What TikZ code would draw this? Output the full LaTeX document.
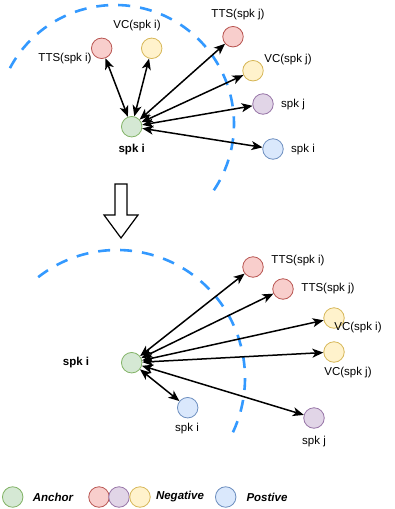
\documentclass[tikz,border=0pt]{standalone}
\usepackage{fontspec}
\setmainfont{Liberation Sans}
\usetikzlibrary{arrows.meta}
\definecolor{ancfill}{HTML}{D5E8D4}\definecolor{ancline}{HTML}{82B366}
\definecolor{ttsfill}{HTML}{F8CECC}\definecolor{ttsline}{HTML}{B85450}
\definecolor{vcfill}{HTML}{FFF2CC}\definecolor{vcline}{HTML}{D6B656}
\definecolor{spkfill}{HTML}{E1D5E7}\definecolor{spkline}{HTML}{9673A6}
\definecolor{posfill}{HTML}{DAE8FC}\definecolor{posline}{HTML}{6C8EBF}
\definecolor{bound}{HTML}{3399FF}
\begin{document}
\begin{tikzpicture}[x=1pt,y=-1pt,
    dot/.style={circle,draw,line width=0.8pt,minimum size=20.5pt,inner sep=0pt},
    ancdot/.style={dot,draw=ancline,fill=ancfill},
    ttsdot/.style={dot,draw=ttsline,fill=ttsfill},
    vcdot/.style={dot,draw=vcline,fill=vcfill},
    spkdot/.style={dot,draw=spkline,fill=spkfill},
    posdot/.style={dot,draw=posline,fill=posfill},
    txt/.style={font=\fontsize{11.5}{13}\selectfont,inner sep=0pt},
    btxt/.style={font=\fontsize{11.5}{13}\selectfont\bfseries,inner sep=0pt},
    itxt/.style={font=\fontsize{11.5}{13}\selectfont\bfseries\itshape,inner sep=0pt},
    link/.style={{Stealth[length=11pt,width=9pt,inset=3pt]}-{Stealth[length=11pt,width=9pt,inset=3pt]},line width=1.5pt},
    boundary/.style={draw=bound,line width=2.6pt,dash pattern=on 12pt off 10pt}]
  \useasboundingbox (0,0) rectangle (395,509);
  % before
  \draw [boundary] (115,124) ++(208:119) arc (208:394:119);
  \node [ancdot] (a1) at (131.7,126.7) {};
  \node [ttsdot] (t1i) at (101.7,48.3) {};
  \node [vcdot] (v1i) at (151.7,48.3) {};
  \node [ttsdot] (t1j) at (233,36.7) {};
  \node [vcdot] (v1j) at (253,70.7) {};
  \node [spkdot] (s1j) at (263,104) {};
  \node [posdot] (p1i) at (273,149) {};
  \node [btxt] at (131.7,150) {spk i};
  \node [txt] at (65,59) {TTS(spk i)};
  \node [txt] at (137,26) {VC(spk i)};
  \node [txt] at (238,15) {TTS(spk j)};
  \node [txt] at (288,60) {VC(spk j)};
  \node [txt] at (293,105) {spk j};
  \node [txt] at (303,150) {spk i};
  \foreach \x in {t1i,v1i,t1j,v1j,s1j,p1i} \draw [link] (a1) -- (\x);
  % step
  \draw [line width=1.2pt,fill=white] (115,184) -- (127,184) -- (127,215) -- (138,215)
    -- (121,238) -- (104,215) -- (115,215) -- cycle;
  % after
  \draw [boundary] (117,378) ++(232:128) arc (232:389:128);
  \node [ancdot] (a2) at (131.7,362.7) {};
  \node [ttsdot] (t2i) at (253,267) {};
  \node [ttsdot] (t2j) at (283,289) {};
  \node [vcdot] (v2i) at (334,318) {};
  \node [vcdot] (v2j) at (334,352) {};
  \node [posdot] (p2i) at (187.7,407.7) {};
  \node [spkdot] (s2j) at (314,418) {};
  \node [btxt] at (76,362.7) {spk i};
  \node [txt] at (298,261) {TTS(spk i)};
  \node [txt] at (328,289) {TTS(spk j)};
  \node [txt] at (358,328) {VC(spk i)};
  \node [txt] at (348,373) {VC(spk j)};
  \node [txt] at (187,429) {spk i};
  \node [txt] at (314,442) {spk j};
  \foreach \x in {t2i,t2j,v2i,v2j,p2i,s2j} \draw [link] (a2) -- (\x);
  % legend
  \node [ancdot] (la) at (12.7,497) {};
  \node [ttsdot] (lt) at (99,497) {};
  \node [spkdot] (ls) at (119,497) {};
  \node [vcdot] (lv) at (140,497) {};
  \node [posdot] (lp) at (225.7,497) {};
  \node [itxt] at (53,497) {Anchor};
  \node [itxt] at (180,497) {Negative};
  \node [itxt] at (267,497) {Postive};
\end{tikzpicture}
\end{document}
